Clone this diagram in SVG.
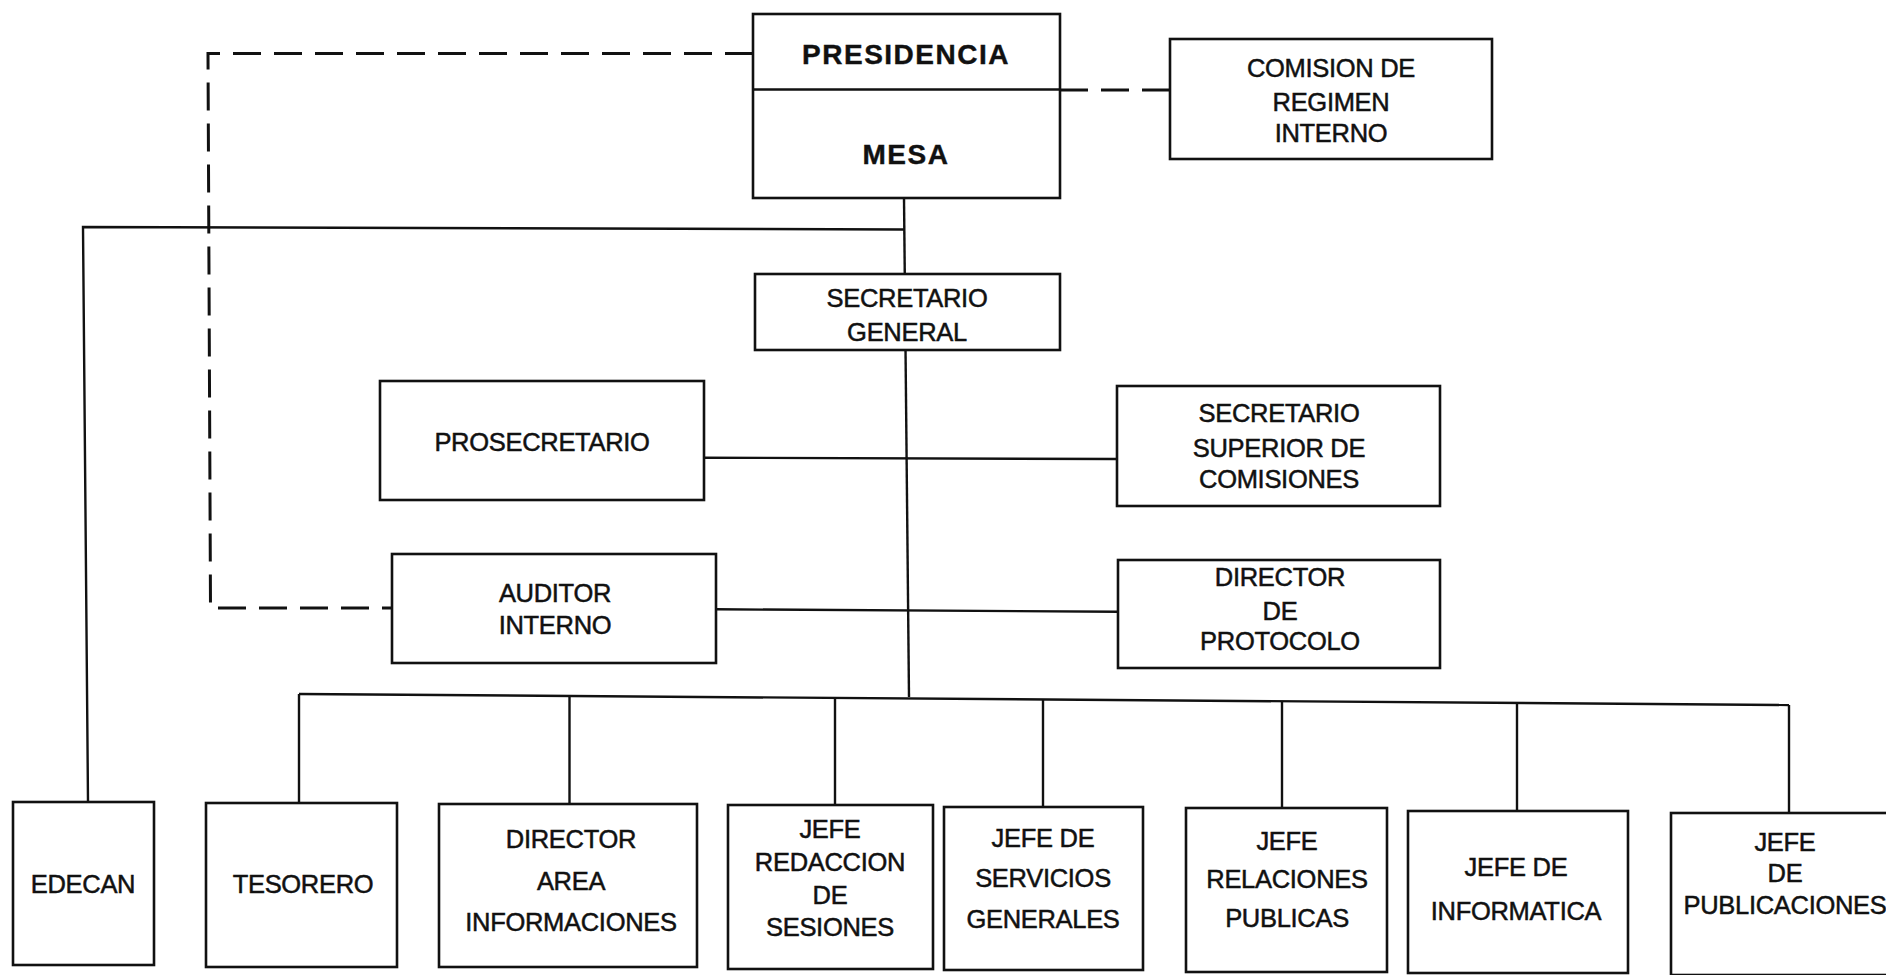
<svg xmlns="http://www.w3.org/2000/svg" width="1886" height="975" viewBox="0 0 1886 975">
<style>
.bg{fill:#ffffff}
.box{fill:#ffffff;stroke:#111;stroke-width:2.6}
.ln{fill:none;stroke:#111;stroke-width:2.4}
.dash{fill:none;stroke:#111;stroke-width:3;stroke-dasharray:28 13}
.t{font-family:"Liberation Sans",Arial,Helvetica,sans-serif;font-size:25.5px;letter-spacing:-0.3px;fill:#111;stroke:#111;stroke-width:0.5;text-anchor:middle}
.tb{font-family:"Liberation Sans",Arial,Helvetica,sans-serif;font-size:28px;font-weight:bold;letter-spacing:1.5px;fill:#111;stroke:#111;stroke-width:0.4;text-anchor:middle}
</style>
<rect class="bg" x="0" y="0" width="1886" height="975"/>
<g id="connectors">
<path class="dash" d="M753,53.5 L208,53.5 L210.5,608 L392,608"/>
<path class="dash" d="M1060,90 L1170,90"/>
<path class="ln" d="M904,198 L909,697"/>
<path class="ln" d="M904,229.5 L83,227 L88,802"/>
<path class="ln" d="M704,457.7 L1117,459"/>
<path class="ln" d="M716,609.3 L1118,611.7"/>
<path class="ln" d="M299,694 L1789,705"/>
<path class="ln" d="M299,694 L299,803"/>
<path class="ln" d="M569.5,696 L569.5,804"/>
<path class="ln" d="M835,698 L835,805"/>
<path class="ln" d="M1043,699.5 L1043,807"/>
<path class="ln" d="M1282,701.3 L1282,808"/>
<path class="ln" d="M1517,703 L1517,811"/>
<path class="ln" d="M1789,705 L1789,813"/>
</g>
<g id="presidencia">
<rect class="box" x="753" y="14" width="307" height="184"/>
<line class="ln" x1="753" y1="89.5" x2="1060" y2="89.5"/>
<text class="tb" x="906" y="63.5">PRESIDENCIA</text>
<text class="tb" x="906" y="163.5">MESA</text>
</g>
<g id="comision">
<rect class="box" x="1170" y="39" width="322" height="120"/>
<text class="t" x="1331" y="77">COMISION DE</text>
<text class="t" x="1331" y="111">REGIMEN</text>
<text class="t" x="1331" y="142">INTERNO</text>
</g>
<g id="secretario-general">
<rect class="box" x="755" y="274" width="305" height="76"/>
<text class="t" x="907" y="306.7">SECRETARIO</text>
<text class="t" x="907" y="340.7">GENERAL</text>
</g>
<g id="prosecretario">
<rect class="box" x="380" y="381" width="324" height="119"/>
<text class="t" x="542" y="450.7">PROSECRETARIO</text>
</g>
<g id="secretario-superior">
<rect class="box" x="1117" y="386" width="323" height="120"/>
<text class="t" x="1279" y="422">SECRETARIO</text>
<text class="t" x="1279" y="456.7">SUPERIOR DE</text>
<text class="t" x="1279" y="488">COMISIONES</text>
</g>
<g id="auditor">
<rect class="box" x="392" y="554" width="324" height="109"/>
<text class="t" x="555" y="602">AUDITOR</text>
<text class="t" x="555" y="634">INTERNO</text>
</g>
<g id="director-protocolo">
<rect class="box" x="1118" y="560" width="322" height="108"/>
<text class="t" x="1280" y="585.7">DIRECTOR</text>
<text class="t" x="1280" y="620">DE</text>
<text class="t" x="1280" y="650">PROTOCOLO</text>
</g>
<g id="edecan">
<rect class="box" x="13" y="802" width="141" height="163"/>
<text class="t" x="83" y="893">EDECAN</text>
</g>
<g id="tesorero">
<rect class="box" x="206" y="803" width="191" height="164"/>
<text class="t" x="303" y="893">TESORERO</text>
</g>
<g id="director-area">
<rect class="box" x="439" y="804" width="258" height="163"/>
<text class="t" x="571" y="848">DIRECTOR</text>
<text class="t" x="571" y="890">AREA</text>
<text class="t" x="571" y="930.7">INFORMACIONES</text>
</g>
<g id="jefe-redaccion">
<rect class="box" x="728" y="805" width="205" height="164"/>
<text class="t" x="830" y="838">JEFE</text>
<text class="t" x="830" y="870.7">REDACCION</text>
<text class="t" x="830" y="904">DE</text>
<text class="t" x="830" y="935.7">SESIONES</text>
</g>
<g id="jefe-servicios">
<rect class="box" x="944" y="807" width="199" height="163"/>
<text class="t" x="1043" y="847">JEFE DE</text>
<text class="t" x="1043" y="886.7">SERVICIOS</text>
<text class="t" x="1043" y="928.3">GENERALES</text>
</g>
<g id="jefe-relaciones">
<rect class="box" x="1186" y="808" width="201" height="164"/>
<text class="t" x="1287" y="850">JEFE</text>
<text class="t" x="1287" y="888">RELACIONES</text>
<text class="t" x="1287" y="927.3">PUBLICAS</text>
</g>
<g id="jefe-informatica">
<rect class="box" x="1408" y="811" width="220" height="162"/>
<text class="t" x="1516" y="876">JEFE DE</text>
<text class="t" x="1516" y="919.7">INFORMATICA</text>
</g>
<g id="jefe-publicaciones">
<rect class="box" x="1671" y="813" width="240" height="162"/>
<text class="t" x="1785" y="850.7">JEFE</text>
<text class="t" x="1785" y="882">DE</text>
<text class="t" x="1785" y="914">PUBLICACIONES</text>
</g>
</svg>
